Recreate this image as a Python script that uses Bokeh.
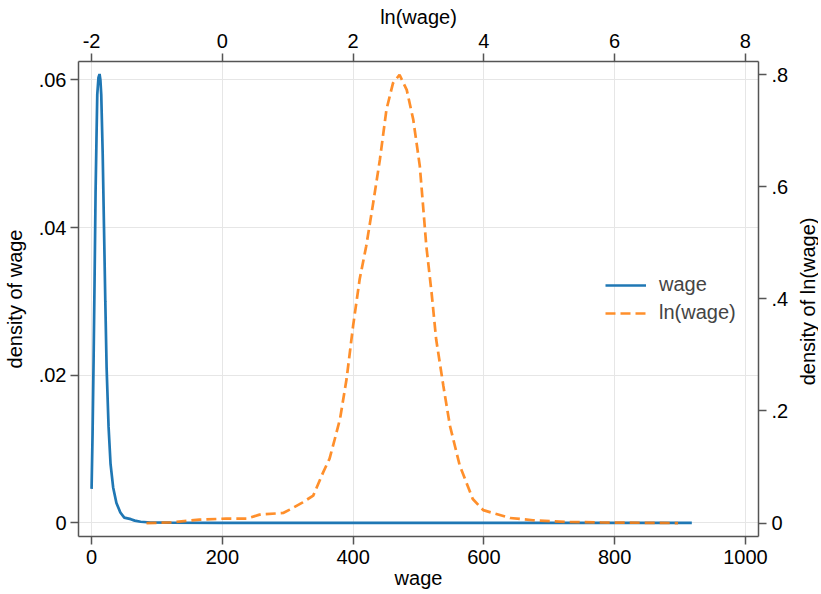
import math
from bokeh.plotting import figure
from bokeh.layouts import row
from bokeh.models import Range1d, LinearAxis, FixedTicker, Legend, LegendItem, Label
from bokeh.embed import file_html
from bokeh.resources import INLINE

# ---- data ----
wage_x = [0, 1.5, 3.1, 4.6, 6.1, 7.5, 8.7, 10.5, 12.2, 13.5, 14.8, 17.0, 19.0,
          21.0, 23.0, 26.0, 29.0, 33.0, 38.0, 44.0, 50.0, 55.0, 60.0, 66.0,
          75.0, 90.0, 120.0, 200.0, 300.0, 400.0, 500.0, 600.0, 700.0, 800.0, 918.0]
wage_d = [0.0046, 0.012, 0.0222, 0.033, 0.0447, 0.052, 0.058, 0.0603, 0.0608,
          0.0600, 0.058, 0.050, 0.040, 0.030, 0.021, 0.013, 0.008, 0.0048,
          0.0027, 0.0014, 0.0007, 0.0006, 0.0005, 0.0003, 0.00015, 0.00005,
          0.00002, 0.0, 0.0, 0.0, 0.0, 0.0, 0.0, 0.0, 0.0]

lnwage_x = [-1.16, -0.8, -0.35, 0.06, 0.37, 0.57, 0.93, 1.03, 1.23, 1.39, 1.54,
            1.64, 1.72, 1.80, 1.90, 2.00, 2.10, 2.20, 2.30, 2.41, 2.51, 2.61,
            2.71, 2.82, 2.92, 3.02, 3.07, 3.12, 3.20, 3.27, 3.38, 3.48, 3.63,
            3.83, 3.99, 4.40, 4.75, 5.26, 5.80, 6.40, 6.97]
lnwage_d = [0.0, 0.001, 0.006, 0.008, 0.008, 0.015, 0.018, 0.024, 0.037, 0.049,
            0.090, 0.115, 0.150, 0.186, 0.257, 0.352, 0.435, 0.494, 0.566, 0.649,
            0.738, 0.785, 0.800, 0.773, 0.720, 0.637, 0.566, 0.494, 0.411, 0.328,
            0.245, 0.174, 0.103, 0.043, 0.023, 0.009, 0.005, 0.002, 0.001, 0.0005, 0.0]

bottom_ticks = [0, 200, 400, 600, 800, 1000]
top_ticks = [-2, 0, 2, 4, 6, 8]
left_ticks = [0, 0.02, 0.04, 0.06]
left_labels = ["0", ".02", ".04", ".06"]
right_ticks = [0, 0.2, 0.4, 0.6, 0.8]
right_labels = ["0", ".2", ".4", ".6", ".8"]

FONT = "Liberation Sans"
FS = "20px"
AX = "#555555"
FW, FH = 680, 475
BT, BB = 61, 57  # top / bottom borders
TOTAL_H = BT + FH + BB

p = figure(frame_width=FW, frame_height=FH, output_backend="svg",
           toolbar_location=None,
           x_range=Range1d(-20, 1020), y_range=Range1d(-0.00185, 0.0625),
           min_border_left=77, min_border_right=36, min_border_top=BT,
           min_border_bottom=BB)
p.extra_x_ranges = {"ln": Range1d(-2.2, 8.2)}
p.extra_y_ranges = {"lnd": Range1d(-0.024, 0.8237)}
p.outline_line_color = None
p.background_fill_color = "white"
p.border_fill_color = "white"

r1 = p.line(wage_x, wage_d, line_color="#1f77b4", line_width=2.7)
r2 = p.line(lnwage_x, lnwage_d, x_range_name="ln", y_range_name="lnd",
            line_color="#ff7f0e", line_width=2.7, line_dash="10 5", line_alpha=0.88)

bx = p.below[0]
lx = p.left[0]
bx.axis_label = "wage"
lx.axis_label = "density of wage"

top_axis = LinearAxis(x_range_name="ln", axis_label="ln(wage)")
right_axis = LinearAxis(y_range_name="lnd")
p.add_layout(top_axis, "above")
p.add_layout(right_axis, "right")

bx.ticker = FixedTicker(ticks=bottom_ticks)
bx.major_label_overrides = {t: str(t) for t in bottom_ticks}
top_axis.ticker = FixedTicker(ticks=top_ticks)
top_axis.major_label_overrides = {t: str(t) for t in top_ticks}
lx.ticker = FixedTicker(ticks=left_ticks)
lx.major_label_overrides = dict(zip(left_ticks, left_labels))
right_axis.ticker = FixedTicker(ticks=right_ticks)
right_axis.major_label_overrides = dict(zip(right_ticks, right_labels))

for ax in (bx, lx, top_axis, right_axis):
    ax.axis_line_color = AX
    ax.axis_line_width = 1.5
    ax.major_tick_line_color = AX
    ax.major_tick_line_width = 1.5
    ax.major_tick_out = 8
    ax.major_tick_in = 0
    ax.minor_tick_line_color = None
    ax.major_label_text_font = FONT
    ax.major_label_text_font_size = FS
    ax.major_label_text_color = "black"
    ax.axis_label_text_font = FONT
    ax.axis_label_text_font_size = FS
    ax.axis_label_text_font_style = "normal"
    ax.axis_label_text_color = "black"

lx.major_label_orientation = "horizontal"
right_axis.major_label_orientation = "horizontal"
bx.major_label_standoff = 5
bx.axis_label_standoff = 0
top_axis.major_label_standoff = 6
top_axis.axis_label_standoff = 3
lx.major_label_standoff = 4
lx.axis_label_standoff = 10
right_axis.major_label_standoff = 5

p.xgrid.ticker = FixedTicker(ticks=bottom_ticks)
p.ygrid.ticker = FixedTicker(ticks=left_ticks)
p.xgrid.grid_line_color = "#e6e6e6"
p.ygrid.grid_line_color = "#e6e6e6"
p.xgrid.grid_line_width = 1
p.ygrid.grid_line_width = 1

legend = Legend(items=[LegendItem(label="wage", renderers=[r1]),
                       LegendItem(label="ln(wage)", renderers=[r2])],
                location=(527, 212), border_line_color=None,
                background_fill_alpha=0, glyph_width=41, glyph_height=20,
                label_standoff=13, spacing=5, padding=0, margin=0,
                label_text_font=FONT, label_text_font_size=FS)
p.add_layout(legend)

# narrow strip to the right, as tall as the main figure, carrying the
# right-hand axis title (reads bottom to top as in the reference)
W2 = 24
p2 = figure(width=W2, height=TOTAL_H, output_backend="svg", toolbar_location=None,
            x_range=Range1d(0, W2), y_range=Range1d(0, TOTAL_H),
            x_axis_type=None, y_axis_type=None, min_border=0)
p2.outline_line_color = None
p2.grid.visible = False
p2.background_fill_color = "white"
p2.border_fill_color = "white"
p2.add_layout(Label(x=13, y=TOTAL_H - (BT + FH / 2) - 1, text="density of ln(wage)",
                    angle=math.pi / 2, text_align="center", text_baseline="middle",
                    text_font=FONT, text_font_size=FS, text_color="black"))

layout = row(p, p2)
open("out.html", "w").write(file_html(layout, INLINE))
